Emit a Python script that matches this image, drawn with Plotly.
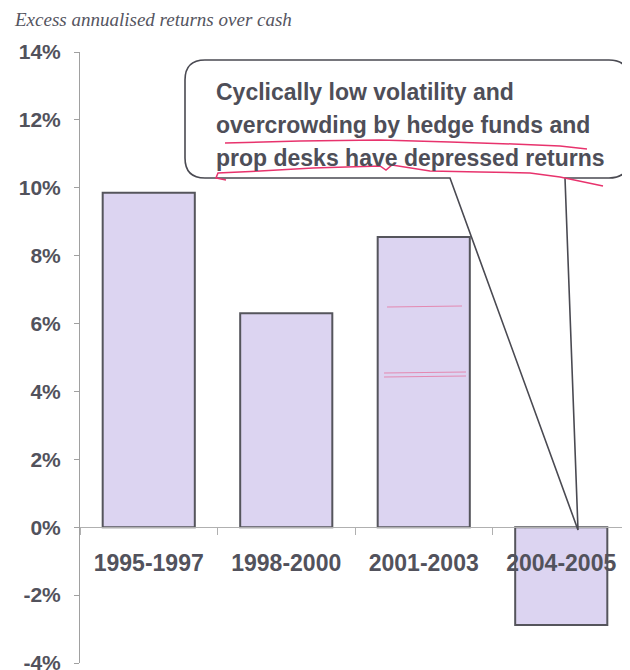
import plotly.graph_objects as go

# ---- data ----
categories = ["1995-1997", "1998-2000", "2001-2003", "2004-2005"]
excess_returns = [9.85, 6.3, 8.55, -2.88]
y_tick_values = [-4, -2, 0, 2, 4, 6, 8, 10, 12, 14]
y_tick_labels = ["-4%", "-2%", "0%", "2%", "4%", "6%", "8%", "10%", "12%", "14%"]
title_text = "Excess annualised returns over cash"
callout_lines = [
    "Cyclically low volatility and",
    "overcrowding by hedge funds and",
    "prop desks have depressed returns",
]

# page has an 8px body margin; size the figure so it fits the 630x670 window
OFF = 8
W, H = 630 - OFF, 670 - OFF
ML, MR, MT, MB = 80 - OFF, 0, 52 - OFF, 7
PW, PH = W - ML - MR, H - MT - MB


def px(x):  # page pixel -> paper
    return (x - OFF - ML) / PW


def py(y):
    return (H - MB - (y - OFF)) / PH


def path(points, close=False):
    s = "M " + " L ".join(f"{px(x):.5f},{py(y):.5f}" for x, y in points)
    return s + (" Z" if close else "")


TEXT = "#52525c"
FONT = "Liberation Sans, Arial, sans-serif"

fig = go.Figure()
fig.add_trace(go.Bar(
    x=categories, y=excess_returns,
    marker=dict(color="#dcd4f1", line=dict(color="#55555c", width=2)),
    width=0.67, showlegend=False, hoverinfo="skip",
))

shapes = []

# faint pink marks on third bar
for (x0, x1, yy) in [(387, 462, 307), (384, 466, 373), (384, 466, 377)]:
    shapes.append(dict(type="path", xref="paper", yref="paper",
                       path=path([(x0, yy), (x1, yy - 1)]),
                       line=dict(color="#e86a98", width=1.2), opacity=0.7, layer="above"))

# callout bubble with pointer
r = 20
L, R, T, B = 185, 629, 60, 178
pts = f"M {px(450):.5f},{py(B):.5f} L {px(L + r):.5f},{py(B):.5f} " \
      f"Q {px(L):.5f},{py(B):.5f} {px(L):.5f},{py(B - r):.5f} " \
      f"L {px(L):.5f},{py(T + r):.5f} Q {px(L):.5f},{py(T):.5f} {px(L + r):.5f},{py(T):.5f} " \
      f"L {px(R - r):.5f},{py(T):.5f} Q {px(R):.5f},{py(T):.5f} {px(R):.5f},{py(T + r):.5f} " \
      f"L {px(R):.5f},{py(B - r):.5f} Q {px(R):.5f},{py(B):.5f} {px(R - r):.5f},{py(B):.5f} " \
      f"L {px(565):.5f},{py(B):.5f} L {px(578):.5f},{py(530):.5f} Z"
shapes.append(dict(type="path", xref="paper", yref="paper", path=pts,
                   fillcolor="white", line=dict(color="#4a4a52", width=1.6), layer="above"))

# pink hand-drawn underlines
shapes.append(dict(type="path", xref="paper", yref="paper",
                   path=path([(225, 143), (300, 141), (380, 140), (450, 142), (513, 144), (560, 146), (587, 149)]),
                   line=dict(color="#e8336d", width=1.5), layer="above"))
shapes.append(dict(type="path", xref="paper", yref="paper",
                   path=path([(226, 180), (216, 178), (218, 173), (260, 171), (313, 168), (380, 166),
                              (386, 170), (392, 165), (430, 171), (480, 172), (530, 173),
                              (560, 177), (603, 186)]),
                   line=dict(color="#e8336d", width=1.5), layer="above"))

annotations = [dict(text=title_text, xref="paper", yref="paper", x=px(12), y=py(20),
                    xanchor="left", yanchor="middle", showarrow=False,
                    font=dict(family="Liberation Serif, Times New Roman, serif", size=19,
                              color="#55555f", style="italic"))]
for i, line in enumerate(callout_lines):
    annotations.append(dict(text=line, xref="paper", yref="paper", x=px(214), y=py(92 + i * 33),
                            xanchor="left", yanchor="middle", showarrow=False,
                            font=dict(family=FONT, size=23, color="#4e4e58", weight="bold")))

fig.update_layout(
    width=W, height=H,
    margin=dict(l=ML, r=MR, t=MT, b=MB, autoexpand=False),
    paper_bgcolor="white", plot_bgcolor="white",
    shapes=shapes, annotations=annotations,
    xaxis=dict(
        range=[-0.5, 3.5], anchor="free", position=4 / 18,
        showline=True, linecolor="#b0b0b0", linewidth=1,
        ticks="outside", tickson="boundaries", ticklen=7, tickcolor="#b0b0b0",
        showgrid=False, zeroline=False, ticklabelstandoff=15, automargin=False,
        tickfont=dict(family=FONT, size=23, color=TEXT, weight="bold"),
    ),
    yaxis=dict(
        range=[-4, 14], tickvals=y_tick_values, ticktext=y_tick_labels,
        showline=True, linecolor="#a0a0a0", linewidth=1,
        ticks="outside", ticklen=5, tickcolor="#a0a0a0",
        showgrid=False, zeroline=False, ticklabelstandoff=9, automargin=False,
        ticklabeloverflow="allow",
        tickfont=dict(family=FONT, size=21, color=TEXT, weight="bold"),
    ),
    bargap=0.33,
)

fig.write_html("out.html")
